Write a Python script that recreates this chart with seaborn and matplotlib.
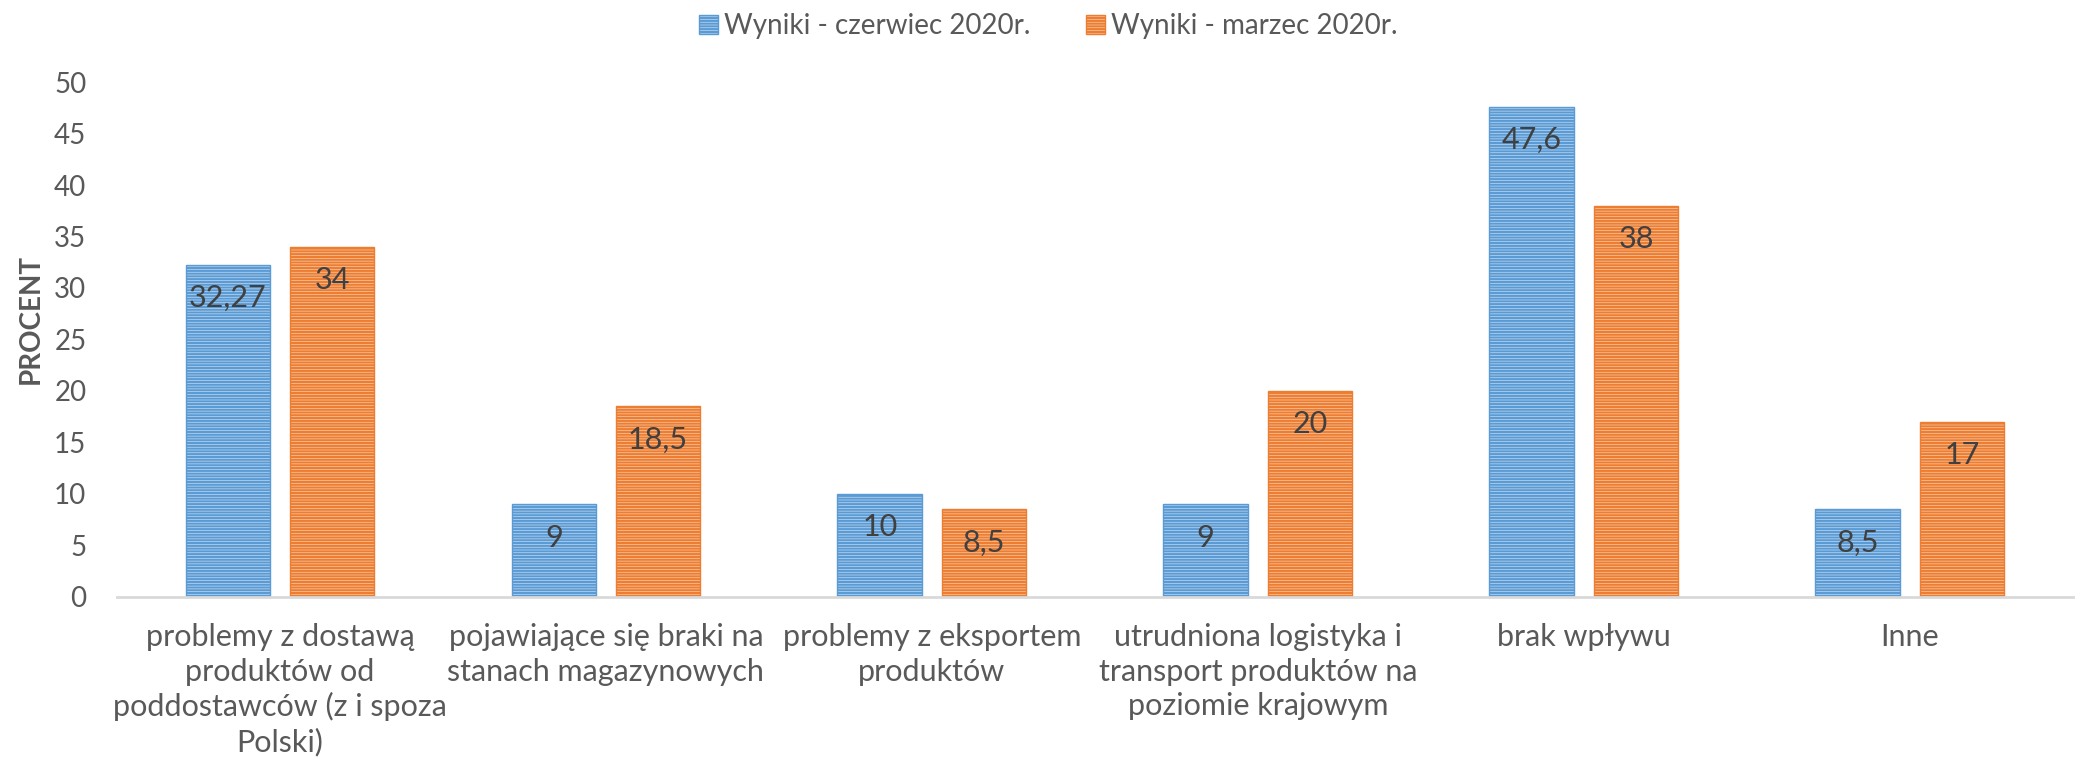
import matplotlib
matplotlib.use("Agg")
import matplotlib.pyplot as plt
import matplotlib.patches as mpatches
import numpy as np
import pandas as pd
import seaborn as sns

# dane
categories = [
    "problemy z dostawą\nproduktów od\npoddostawców (z i spoza\nPolski)",
    "pojawiające się braki na\nstanach magazynowych",
    "problemy z eksportem\nproduktów",
    "utrudniona logistyka i\ntransport produktów na\npoziomie krajowym",
    "brak wpływu",
    "Inne",
]
series_names = ["Wyniki - czerwiec 2020r.", "Wyniki - marzec 2020r."]
czerwiec = [32.27, 9, 10, 9, 47.6, 8.5]
marzec = [34, 18.5, 8.5, 20, 38, 17]

colors = ["#5B9BD5", "#ED7D31"]
light = ["#DCE9F6", "#FBDDC9"]

sns.set_style("white")
plt.rcParams["font.family"] = ["Lato", "DejaVu Sans"]
plt.rcParams["hatch.linewidth"] = 1.6

df = pd.DataFrame({
    "kategoria": categories * 2,
    "seria": [series_names[0]] * 6 + [series_names[1]] * 6,
    "wartosc": czerwiec + marzec,
})

fig = plt.figure(figsize=(20.77, 7.7), dpi=100)
ax = fig.add_axes([0.0563, 0.2247, 0.9417, 0.6688])

sns.barplot(data=df, x="kategoria", y="wartosc", hue="seria",
            palette=colors, width=0.64, gap=0.19, ax=ax, legend=False,
            errorbar=None)

for i, cont in enumerate(ax.containers):
    for p in cont:
        p.set_facecolor(light[i])
        p.set_edgecolor(colors[i])
        p.set_hatch("------")
        p.set_linewidth(1.0)
    vals = czerwiec if i == 0 else marzec
    for p, v in zip(cont, vals):
        txt = f"{v:g}".replace(".", ",")
        ax.annotate(txt, (p.get_x() + p.get_width() / 2, p.get_height()),
                    xytext=(0, -24), textcoords="offset points",
                    ha="center", va="center", fontsize=22, color="#404040")

ax.set_xlim(-0.5, 5.5)
ax.set_ylim(0, 50)
ax.set_yticks(range(0, 51, 5))
ax.tick_params(axis="y", labelsize=20, labelcolor="#595959", length=0, pad=22)
ax.tick_params(axis="x", labelsize=22, labelcolor="#595959", length=0, pad=19)
for lab in ax.get_xticklabels():
    lab.set_linespacing(1.27)
ax.set_xlabel("")
ax.set_ylabel("PROCENT", fontsize=20, fontweight="bold", color="#595959")
ax.yaxis.set_label_coords(-0.0373, 0.54)

for s in ["top", "right", "left"]:
    ax.spines[s].set_visible(False)
ax.spines["bottom"].set_color("#D9D9D9")
ax.spines["bottom"].set_linewidth(2)

handles = [mpatches.Patch(facecolor=light[i], edgecolor=colors[i], hatch="------",
                          label=series_names[i]) for i in range(2)]
fig.legend(handles=handles, loc="upper center", bbox_to_anchor=(0.5045, 1.015),
           ncol=2, frameon=False, fontsize=20, labelcolor="#595959",
           handlelength=0.7, handleheight=0.7, handletextpad=0.2, columnspacing=2.0)

fig.savefig("out.png", dpi=100)
